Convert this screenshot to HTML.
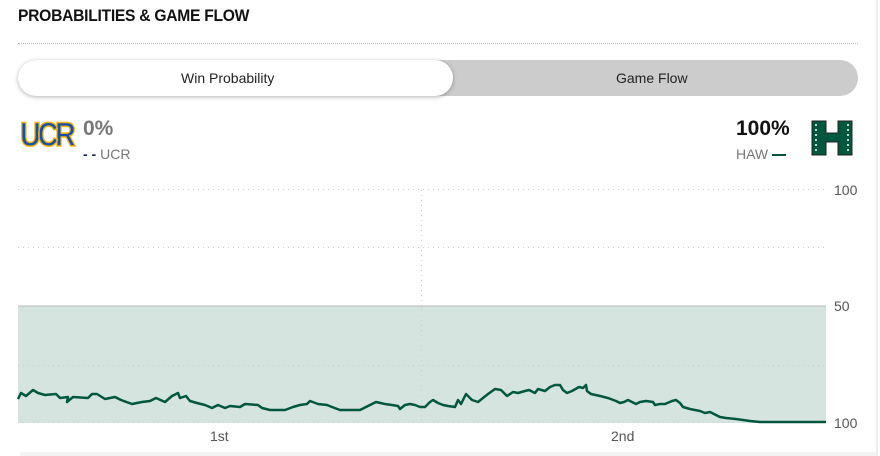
<!DOCTYPE html>
<html><head><style>
body{margin:0;width:880px;height:456px;background:#fff;font-family:"Liberation Sans",sans-serif;overflow:hidden;position:relative}
.t{position:absolute;left:18px;top:6px;font-size:17px;font-weight:bold;color:#111;letter-spacing:-0.3px;transform:scaleX(0.92);transform-origin:left}
.hr{position:absolute;left:18px;top:43px;width:840px;border-top:1px dotted #bbb}
.tog{position:absolute;left:18px;top:60px;width:840px;height:36px;background:#ccc;border-radius:18px}
.on{position:absolute;left:0;top:0;width:435px;height:36px;background:#fff;border-radius:18px;box-shadow:0 1px 4px rgba(0,0,0,.3)}
.lab{position:absolute;top:10px;font-size:14px;color:#222}
.pct{position:absolute;font-size:21px;font-weight:bold}
.nm{position:absolute;font-size:14px;color:#777}
.ax{position:absolute;font-size:14px;color:#555}
.rb{position:absolute;left:876px;top:0;width:2px;height:456px;background:#eee}
</style></head><body>
<div class="t">PROBABILITIES &amp; GAME FLOW</div>
<div class="hr"></div>
<div class="tog"><div class="on"></div><div class="lab" style="left:163px">Win Probability</div><div class="lab" style="left:598px">Game Flow</div></div>
<div style="position:absolute;left:20px;top:116px;font-size:34px;font-weight:bold;color:#1a4fa8;-webkit-text-stroke:1.5px #f2b516;letter-spacing:-4px;transform:scaleX(0.85);transform-origin:left">UCR</div>
<div class="pct" style="left:83px;top:117px;color:#777">0%</div>
<div class="nm" style="left:83px;top:146px"><span style="color:#1b2a55;font-weight:bold">- -</span> UCR</div>
<div class="pct" style="left:736px;top:117px;color:#111">100%</div>
<div class="nm" style="left:736px;top:146px">HAW <span style="display:inline-block;width:14px;border-top:2px solid #00573d;vertical-align:middle"></span></div>
<svg style="position:absolute;left:811px;top:120px" width="42" height="36" viewBox="0 0 42 36">
<path d="M1,1 H15 V13 H27 V1 H41 V35 H27 V22 H15 V35 H1 Z" fill="#00573d" stroke="#222" stroke-width="1"/>
<path d="M5,4 V32 M37,4 V32" stroke="#fff" stroke-width="1.5" stroke-dasharray="2,3"/>
</svg>
<svg style="position:absolute;left:0;top:0" width="880" height="456">
<rect x="18" y="306" width="808" height="117" fill="#d5e4df"/>
<g stroke="#ccc" stroke-dasharray="1,4" stroke-width="1">
<line x1="18" y1="189.5" x2="826" y2="189.5"/><line x1="18" y1="247.5" x2="826" y2="247.5"/><line x1="18" y1="365.5" x2="826" y2="365.5"/><line x1="18" y1="422.5" x2="826" y2="422.5"/><line x1="421.5" y1="190" x2="421.5" y2="423"/></g>
<line x1="18" y1="306" x2="826" y2="306" stroke="#bbb"/>
<polyline fill="none" stroke="#00573d" stroke-width="2.5" stroke-linejoin="round" points="18,399 21,393 26,396 33,390 38,393 45,395 56,394 60,398 68,397 67,402 73,397 88,398 92,394 97,394 105,399 115,397 121,400 132,404 142,402 150,401 156,398 165,402 172,396 178,393 180,398 186,396 190,401 197,403 205,405 212,408 218,405 225,408 230,406 240,407 245,404 258,405 262,408 270,410 285,410 293,407 300,405 307,404 310,401 318,404 327,405 332,407 340,410 345,410 360,410 370,405 376,402 385,404 392,405 398,406 400,409 405,405 410,404 415,405 420,407 425,407 430,402 433,400 438,403 443,405 448,406 455,407 458,400 461,404 466,394 472,400 478,402 488,394 495,389 501,390 507,396 513,392 518,393 525,391 529,390 535,393 538,389 545,391 550,387 555,385 560,385 563,390 567,393 572,391 579,387 583,388 586,385 587,391 591,394 600,396 608,398 616,401 620,403 624,402 628,400 632,402 636,404 640,402 646,401 653,402 655,405 660,404 665,404 672,401 676,400 680,403 683,407 690,409 695,410 700,411 705,413 710,412 716,415 720,417 726,418 736,419 750,421 760,422 780,422 826,422"/>
</svg>
<div class="ax" style="left:834px;top:182px">100</div>
<div class="ax" style="left:834px;top:298px">50</div>
<div class="ax" style="left:834px;top:415px">100</div>
<div class="ax" style="left:210px;top:428px">1st</div>
<div class="ax" style="left:611px;top:428px">2nd</div>
<div style="position:absolute;left:20px;top:452px;width:856px;height:4px;background:#f3f3f3"></div>
<div class="rb"></div>
</body></html>
